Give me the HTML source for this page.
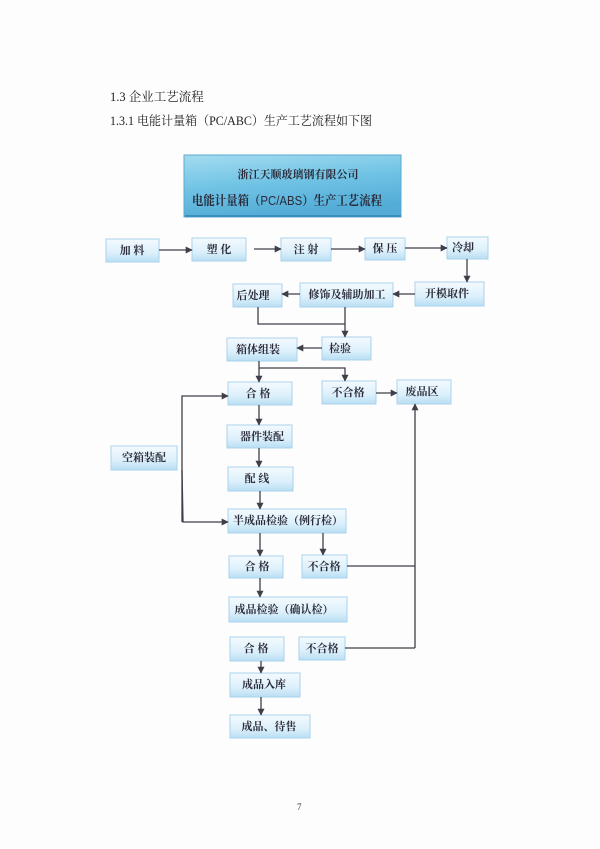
<!DOCTYPE html>
<html><head><meta charset="utf-8"><style>
html,body{margin:0;padding:0;background:#fdfdfd;}
svg{display:block;}
.t{font-family:"Liberation Serif","Noto Serif CJK SC",serif;font-weight:bold;font-size:11px;fill:#2b2b3a;text-anchor:middle;}
.h{font-family:"Liberation Serif","Noto Serif CJK SC",serif;font-size:12.5px;fill:#222;}
.ln{stroke:#3f3f4a;stroke-width:1.3;fill:none;}
</style></head><body>
<svg width="600" height="849" viewBox="0 0 600 849" xmlns="http://www.w3.org/2000/svg">
<defs>
<linearGradient id="bx" x1="0" y1="0" x2="0" y2="1">
<stop offset="0" stop-color="#f4fafe"/><stop offset="0.6" stop-color="#dcf0fb"/><stop offset="1" stop-color="#b9def3"/>
</linearGradient>
<linearGradient id="hd" x1="0" y1="0" x2="0.3" y2="1">
<stop offset="0" stop-color="#a4dcf1"/><stop offset="0.5" stop-color="#72c4e5"/><stop offset="1" stop-color="#52acd6"/>
</linearGradient>
<marker id="a" viewBox="0 0 10 10" refX="9" refY="5" markerWidth="7" markerHeight="7" markerUnits="userSpaceOnUse" orient="auto">
<path d="M0,0 L10,5 L0,10 z" fill="#3f3f4a"/>
</marker>
</defs>
<rect width="600" height="849" fill="#fdfdfd"/>
<text class="h" x="110" y="101">1.3 企业工艺流程</text>
<text class="h" x="110" y="125" font-size="12" textLength="262" lengthAdjust="spacingAndGlyphs">1.3.1 电能计量箱（PC/ABC）生产工艺流程如下图</text>

<rect x="184" y="155" width="217" height="62" fill="url(#hd)" stroke="#5aa9cf" stroke-width="1"/>
<rect x="185" y="215" width="216" height="2" fill="#3b8fbd"/>
<text class="t" x="298" y="178" font-size="13">浙江天顺玻璃钢有限公司</text>
<text x="192" y="205" font-size="13" textLength="190" lengthAdjust="spacingAndGlyphs" style="font-family:'Liberation Serif','Noto Serif CJK SC',serif;font-weight:bold;fill:#2b2b3a">电能计量箱（<tspan style="font-family:'Liberation Sans',sans-serif;font-weight:normal">PC/ABS</tspan>）生产工艺流程</text>

<g>
<rect x="106" y="239" width="53" height="23" fill="url(#bx)" stroke="#a9d3ec"/><text class="t" x="132" y="254">加 料</text>
<rect x="192" y="238" width="54" height="23" fill="url(#bx)" stroke="#a9d3ec"/><text class="t" x="219" y="253">塑 化</text>
<rect x="281" y="238" width="50" height="23" fill="url(#bx)" stroke="#a9d3ec"/><text class="t" x="306" y="253">注 射</text>
<rect x="365" y="238" width="40" height="22" fill="url(#bx)" stroke="#a9d3ec"/><text class="t" x="385" y="252">保 压</text>
<rect x="447" y="237" width="41" height="22" fill="url(#bx)" stroke="#a9d3ec"/><text class="t" x="463" y="251">冷却</text>
<rect x="415" y="282" width="69" height="24" fill="url(#bx)" stroke="#a9d3ec"/><text class="t" x="447" y="297">开模取件</text>
<rect x="300" y="283" width="93" height="24" fill="url(#bx)" stroke="#a9d3ec"/><text class="t" x="347" y="298">修饰及辅助加工</text>
<rect x="233" y="284" width="49" height="23" fill="url(#bx)" stroke="#a9d3ec"/><text class="t" x="253" y="299" font-size="10">后处理</text>
<rect x="322" y="337" width="49" height="23" fill="url(#bx)" stroke="#a9d3ec"/><text class="t" x="340" y="352">检验</text>
<rect x="227" y="338" width="70" height="23" fill="url(#bx)" stroke="#a9d3ec"/><text class="t" x="258" y="353">箱体组装</text>
<rect x="228" y="382" width="64" height="23" fill="url(#bx)" stroke="#a9d3ec"/><text class="t" x="258" y="397">合 格</text>
<rect x="322" y="381" width="54" height="23" fill="url(#bx)" stroke="#a9d3ec"/><text class="t" x="348" y="396">不合格</text>
<rect x="397" y="380" width="54" height="24" fill="url(#bx)" stroke="#a9d3ec"/><text class="t" x="422" y="395">废品区</text>
<rect x="227" y="425" width="65" height="23" fill="url(#bx)" stroke="#a9d3ec"/><text class="t" x="262" y="440">器件装配</text>
<rect x="228" y="467" width="65" height="24" fill="url(#bx)" stroke="#a9d3ec"/><text class="t" x="257" y="482">配  线</text>
<rect x="228" y="509" width="118" height="24" fill="url(#bx)" stroke="#a9d3ec"/><text class="t" x="288" y="524">半成品检验（例行检）</text>
<rect x="111" y="446" width="66" height="24" fill="url(#bx)" stroke="#a9d3ec"/><text class="t" x="144" y="461">空箱装配</text>
<rect x="229" y="556" width="54" height="22" fill="url(#bx)" stroke="#a9d3ec"/><text class="t" x="257" y="570">合 格</text>
<rect x="302" y="555" width="45" height="23" fill="url(#bx)" stroke="#a9d3ec"/><text class="t" x="324" y="570">不合格</text>
<rect x="229" y="597" width="118" height="25" fill="url(#bx)" stroke="#a9d3ec"/><text class="t" x="284" y="613">成品检验（确认检）</text>
<rect x="230" y="637" width="54" height="24" fill="url(#bx)" stroke="#a9d3ec"/><text class="t" x="256" y="652">合 格</text>
<rect x="299" y="637" width="46" height="23" fill="url(#bx)" stroke="#a9d3ec"/><text class="t" x="322" y="652">不合格</text>
<rect x="230" y="673" width="70" height="24" fill="url(#bx)" stroke="#a9d3ec"/><text class="t" x="264" y="688">成品入库</text>
<rect x="230" y="715" width="80" height="23" fill="url(#bx)" stroke="#a9d3ec"/><text class="t" x="269" y="730">成品、待售</text>
</g>

<g class="ln" marker-end="url(#a)">
<line x1="159" y1="250" x2="192" y2="250"/>
<line x1="254" y1="249" x2="281" y2="249"/>
<line x1="331" y1="249" x2="365" y2="249"/>
<line x1="405" y1="248" x2="447" y2="248"/>
<line x1="467" y1="259" x2="467" y2="282"/>
<line x1="415" y1="294" x2="393" y2="294"/>
<line x1="300" y1="294" x2="282" y2="294"/>
<line x1="345" y1="307" x2="345" y2="337"/>
<line x1="322" y1="348" x2="297" y2="348"/>
<line x1="259" y1="361" x2="259" y2="382"/>
<polyline points="259,368 345,368 345,381"/>
<line x1="376" y1="393" x2="397" y2="393"/>
<line x1="415" y1="648" x2="415" y2="404"/>
<polyline points="182,522 182,396 228,396"/>
<polyline points="182,470 183,522 228,522"/>
<line x1="259" y1="405" x2="259" y2="425"/>
<line x1="259" y1="448" x2="259" y2="467"/>
<line x1="260" y1="491" x2="260" y2="509"/>
<line x1="260" y1="533" x2="260" y2="556"/>
<line x1="323" y1="533" x2="323" y2="555"/>
<line x1="260" y1="578" x2="260" y2="597"/>
<line x1="261" y1="661" x2="261" y2="673"/>
<line x1="261" y1="697" x2="261" y2="715"/>
</g>
<g class="ln">
<polyline points="258,307 258,324 345,324"/>
<line x1="347" y1="566" x2="415" y2="566"/>
<line x1="345" y1="648" x2="415" y2="648"/>
</g>

<text x="297" y="810" font-size="9" style="font-family:'Liberation Serif',serif;fill:#333">7</text>
</svg>
</body></html>
